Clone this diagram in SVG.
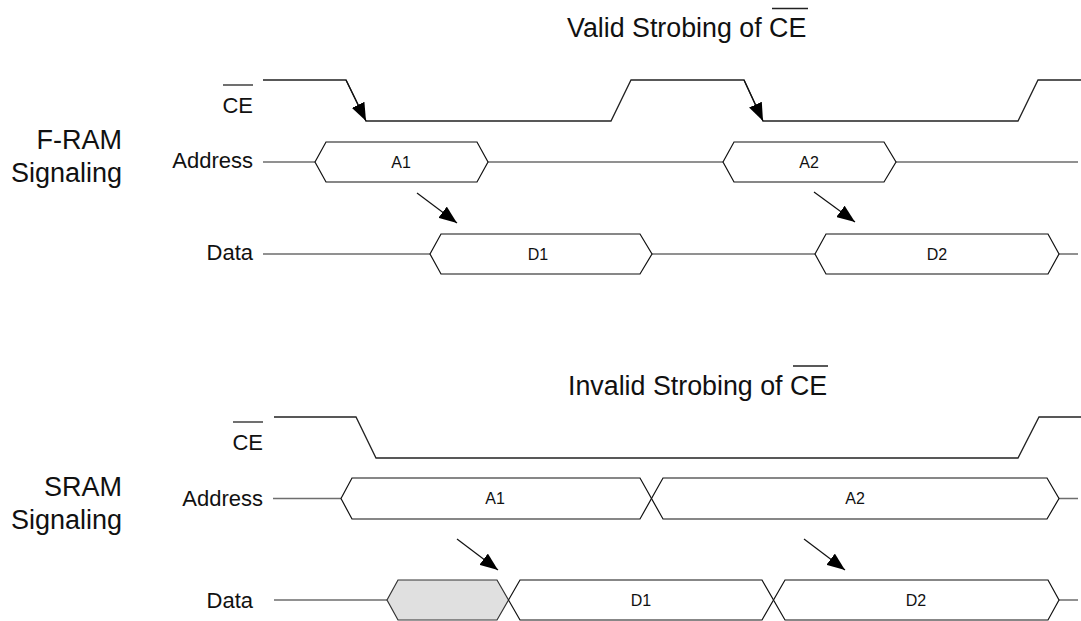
<svg xmlns="http://www.w3.org/2000/svg" width="1081" height="621" viewBox="0 0 1081 621">
<style>
text{font-family:"Liberation Sans",Arial,sans-serif;fill:#111}
.title{font-size:26.8px}
.side{font-size:27px;text-anchor:end}
.sig{font-size:22px;text-anchor:end}
.hx{font-size:16px;text-anchor:middle}
.wave{fill:none;stroke:#222;stroke-width:1.3}
.bus{fill:none;stroke:#6e6e6e;stroke-width:1.6}
.hex{fill:#fff;stroke:#111;stroke-width:1.2}
.gray{fill:#e0e0e0;stroke:#333;stroke-width:1.2}
.ov{stroke:#222;stroke-width:1.3}
.arr{stroke:#111;stroke-width:1.2;fill:none;marker-end:url(#ah)}
</style>
<defs>
<marker id="ah" markerUnits="userSpaceOnUse" markerWidth="18" markerHeight="14" refX="18" refY="7" orient="auto">
<path d="M0,0 L18,7 L0,14 z" fill="#000"/>
</marker>
</defs>
<rect width="1081" height="621" fill="#fff"/>

<g id="title-valid">
<text class="title" x="567" y="37">Valid Strobing of CE</text>
<line class="ov" x1="772" y1="8.5" x2="808" y2="8.5"/>
</g>
<g id="label-fram">
<text class="side" x="122" y="149">F-RAM</text>
<text class="side" x="122" y="182">Signaling</text>
</g>
<g id="ce-top">
<text class="sig" x="253" y="113">CE</text>
<line class="ov" x1="223" y1="85" x2="253" y2="85"/>
<path class="wave" d="M263,80 H346 L366,121 H611 L631,80 H744 L763,121 H1018 L1038,80 H1081"/>
</g>
<g id="address-top">
<text class="sig" x="253" y="168">Address</text>
<path class="bus" d="M263,162 H315 M488,162 H723 M896,162 H1078"/>
<polygon class="hex" points="315,162 326,142 477,142 488,162 477,182 326,182"/>
<text class="hx" x="401" y="168">A1</text>
<polygon class="hex" points="723,162 734,142 884,142 896,162 884,182 734,182"/>
<text class="hx" x="809" y="168">A2</text>
</g>
<g id="data-top">
<text class="sig" x="253" y="260">Data</text>
<path class="bus" d="M263,254 H430 M652,254 H815 M1059,254 H1078"/>
<polygon class="hex" points="430,254 441,234 640,234 652,254 640,274 441,274"/>
<text class="hx" x="538" y="260">D1</text>
<polygon class="hex" points="815,254 826,234 1048,234 1059,254 1048,274 826,274"/>
<text class="hx" x="937" y="260">D2</text>
</g>

<g id="title-invalid">
<text class="title" x="568" y="395">Invalid Strobing of CE</text>
<line class="ov" x1="793" y1="366" x2="828" y2="366"/>
</g>
<g id="label-sram">
<text class="side" x="122" y="496">SRAM</text>
<text class="side" x="122" y="529">Signaling</text>
</g>
<g id="ce-bottom">
<text class="sig" x="263" y="450">CE</text>
<line class="ov" x1="233" y1="422" x2="263" y2="422"/>
<path class="wave" d="M274,417 H356 L376,458 H1018 L1039,417 H1081"/>
</g>
<g id="address-bottom">
<text class="sig" x="263" y="506">Address</text>
<path class="bus" d="M273,498.5 H341 M1059,498.5 H1078"/>
<polygon class="hex" points="341,498.5 352,478 640,478 651.5,498.5 640,519 352,519"/>
<text class="hx" x="495" y="504">A1</text>
<polygon class="hex" points="651.5,498.5 663,478 1047,478 1059,498.5 1047,519 663,519"/>
<text class="hx" x="855" y="504">A2</text>
</g>
<g id="data-bottom">
<text class="sig" x="253" y="608">Data</text>
<path class="bus" d="M274,600 H387 M1059,600 H1078"/>
<polygon class="gray" points="387,600 398,580 497,580 508.5,600 497,620 398,620"/>
<polygon class="hex" points="508.5,600 520,580 762,580 773.5,600 762,620 520,620"/>
<text class="hx" x="641" y="606">D1</text>
<polygon class="hex" points="773.5,600 785,580 1048,580 1059,600 1048,620 785,620"/>
<text class="hx" x="916" y="606">D2</text>
</g>

<g id="connectors">
<line class="arr" x1="346" y1="80" x2="366" y2="121"/>
<line class="arr" x1="744" y1="80" x2="763" y2="121"/>
<line class="arr" x1="417" y1="193" x2="457" y2="223"/>
<line class="arr" x1="814" y1="192" x2="855" y2="222"/>
<line class="arr" x1="457" y1="539" x2="498" y2="570"/>
<line class="arr" x1="804" y1="539" x2="845" y2="570"/>
</g>
</svg>
